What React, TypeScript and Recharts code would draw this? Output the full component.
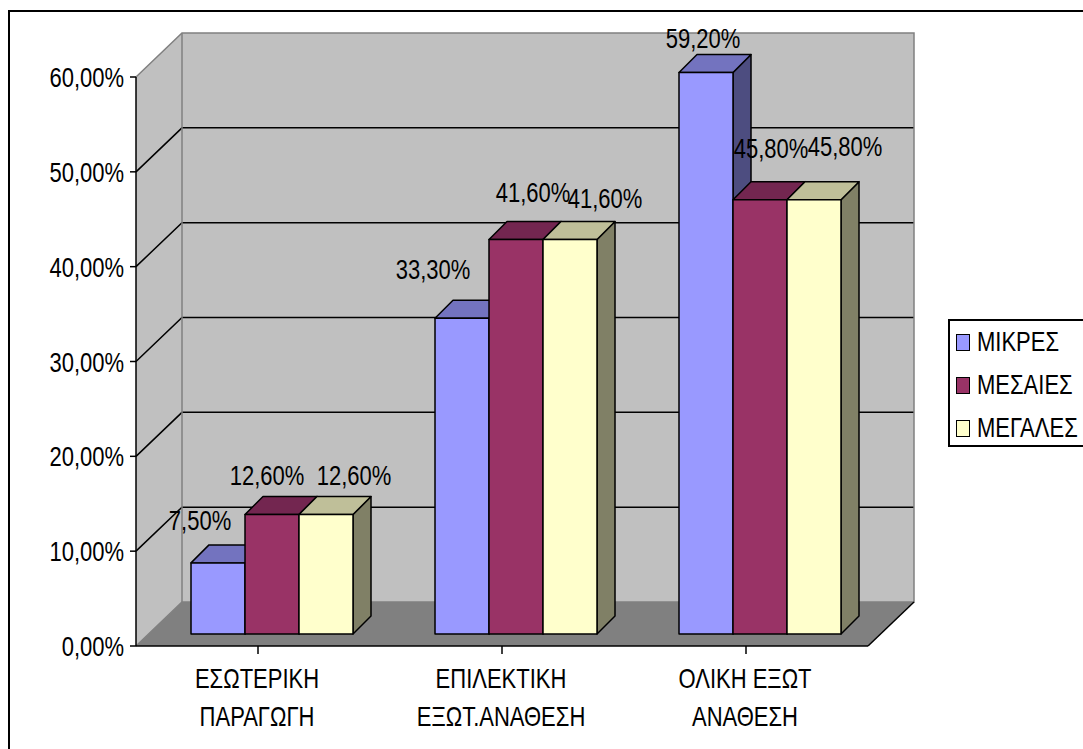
import React from 'react';
import { BarChart, Bar, XAxis, YAxis, Legend, LabelList, Customized } from 'recharts';

const categories = ['ΕΣΩΤΕΡΙΚΗ\nΠΑΡΑΓΩΓΗ', 'ΕΠΙΛΕΚΤΙΚΗ\nΕΞΩΤ.ΑΝΑΘΕΣΗ', 'ΟΛΙΚΗ ΕΞΩΤ\nΑΝΑΘΕΣΗ'];
const mikres = [7.5, 33.3, 59.2];
const mesaies = [12.6, 41.6, 45.8];
const megales = [12.6, 41.6, 45.8];
const yTicks = [0, 10, 20, 30, 40, 50, 60];

// Hand placement of the value labels, relative to the top centre of each bar.
const nudgeMikres = [[-18, -42], [-29, -48], [-3, -34]];
const nudgeMesaies = [[-5, -39], [17, -46], [11, -51]];
const nudgeMegales = [[28, -39], [35, -40], [31, -53]];

const rows = categories.map((name, i) => ({
  name,
  mikres: mikres[i],
  mesaies: mesaies[i],
  megales: megales[i],
}));

const W = 1083;
const H = 749;
const plot = { left: 136, right: 868, top: 77, bottom: 646 };
const margin = { left: 0, right: W - plot.right, top: plot.top, bottom: 0 };
const wallDx = 46;
const wallDy = 44;
const barDx = 14.5;
const barDy = 12;
const depth = 18;

const FONT = '"Liberation Sans", Arial, sans-serif';
const FONT_SIZE = 27.5;
const SQUEEZE = 0.8;

const pct = (v: number) => `${v.toFixed(2).replace('.', ',')}%`;

function Squeezed({ x, y, anchor, children }: any) {
  return (
    <text
      transform={`translate(${x},${y}) scale(${SQUEEZE},1)`}
      textAnchor={anchor}
      fontFamily={FONT}
      fontSize={FONT_SIZE}
      fill="#000"
    >
      {children}
    </text>
  );
}

// Side wall, back wall, floor and gridlines of the 3D box behind the bars.
function Backdrop() {
  const { left, right, top, bottom } = plot;
  const span = bottom - top;
  const yOf = (t: number) => bottom - (span * t) / 60;
  return (
    <g>
      <polygon
        points={`${left},${top} ${left + wallDx},${top - wallDy} ${left + wallDx},${bottom - wallDy} ${left},${bottom}`}
        fill="#c0c0c0"
      />
      <rect x={left + wallDx} y={top - wallDy} width={right - left} height={span} fill="#c0c0c0" />
      <polygon
        points={`${left},${bottom} ${left + wallDx},${bottom - wallDy} ${right + wallDx},${bottom - wallDy} ${right},${bottom}`}
        fill="#808080"
      />
      {yTicks.slice(1, -1).map((t) => (
        <path
          key={t}
          d={`M${left},${yOf(t)} L${left + wallDx},${yOf(t) - wallDy} H${right + wallDx}`}
          fill="none"
          stroke="#000"
          strokeWidth={1.5}
        />
      ))}
      <path
        d={`M${left},${top} L${left + wallDx},${top - wallDy} H${right + wallDx} V${bottom - wallDy} H${left + wallDx} L${left},${bottom}`}
        fill="none"
        stroke="#808080"
        strokeWidth={1.5}
      />
      <line
        x1={left + wallDx}
        y1={top - wallDy}
        x2={left + wallDx}
        y2={bottom - wallDy}
        stroke="#808080"
        strokeWidth={1.5}
      />
      <line x1={right} y1={bottom} x2={right + wallDx} y2={bottom - wallDy} stroke="#000" strokeWidth={1.5} />
    </g>
  );
}

// A bar drawn as a box: front face, lit top face and shaded side face.
const box = (topFill: string, sideFill: string) => (props: any) => {
  const { x, y, width, height, fill } = props;
  const fx = x + barDx;
  const fy = y - barDy;
  const common = { stroke: '#000', strokeWidth: 1.5, strokeLinejoin: 'round' as const };
  return (
    <g>
      <polygon
        points={`${fx + width},${fy} ${fx + width + depth},${fy - depth} ${fx + width + depth},${fy + height - depth} ${fx + width},${fy + height}`}
        fill={sideFill}
        {...common}
      />
      <polygon
        points={`${fx},${fy} ${fx + depth},${fy - depth} ${fx + width + depth},${fy - depth} ${fx + width},${fy}`}
        fill={topFill}
        {...common}
      />
      <rect x={fx} y={fy} width={width} height={height} fill={fill} {...common} />
    </g>
  );
};

const valueLabel = (nudges: number[][]) => (props: any) => {
  const { x, y, width, value, index } = props;
  const [nx, ny] = nudges[index];
  return (
    <Squeezed x={x + barDx + width / 2 + nx} y={y - barDy + ny + 9} anchor="middle">
      {pct(Number(value))}
    </Squeezed>
  );
};

function CategoryTick({ x, y, payload }: any) {
  const lines = String(payload.value).split('\n');
  return (
    <g>
      {lines.map((line, i) => (
        <Squeezed key={line} x={x - 1} y={y + 32 + i * 38} anchor="middle">
          {line}
        </Squeezed>
      ))}
    </g>
  );
}

function ValueTick({ x, y, payload }: any) {
  return (
    <Squeezed x={x - 6} y={y + 10} anchor="end">
      {pct(payload.value)}
    </Squeezed>
  );
}

function LegendBox({ payload }: any) {
  return (
    <div
      style={{
        position: 'relative',
        width: 140,
        height: 128,
        boxSizing: 'border-box',
        border: '2px solid #000',
        background: '#fff',
        overflow: 'hidden',
      }}
    >
      {(payload || []).map((entry: any, i: number) => (
        <React.Fragment key={entry.value}>
          <div
            style={{
              position: 'absolute',
              left: 6,
              top: 13 + i * 43,
              width: 14,
              height: 17,
              boxSizing: 'border-box',
              border: '1.5px solid #000',
              background: entry.color,
            }}
          />
          <div
            style={{
              position: 'absolute',
              left: 27,
              top: 6 + i * 43,
              fontFamily: FONT,
              fontSize: FONT_SIZE,
              lineHeight: '30px',
              color: '#000',
              whiteSpace: 'nowrap',
              transform: `scaleX(${SQUEEZE})`,
              transformOrigin: 'left center',
            }}
          >
            {entry.value}
          </div>
        </React.Fragment>
      ))}
    </div>
  );
}

export default function App() {
  return (
    <div style={{ position: 'absolute', left: 0, top: 0, width: W, height: H, overflow: 'hidden', background: '#fff' }}>
      <div
        style={{
          position: 'absolute',
          left: 8,
          top: 10,
          width: W,
          height: H,
          borderLeft: '2px solid #000',
          borderTop: '2px solid #000',
        }}
      />
      <BarChart
        width={W}
        height={H}
        data={rows}
        margin={margin}
        barCategoryGap="16.6%"
        barGap={0}
        style={{ position: 'absolute', left: 0, top: 0 }}
      >
        <Customized component={Backdrop} />
        <XAxis
          dataKey="name"
          interval={0}
          height={H - plot.bottom}
          tickSize={8}
          tick={<CategoryTick />}
          axisLine={{ stroke: '#000', strokeWidth: 1.5 }}
          tickLine={{ stroke: '#000', strokeWidth: 1.5 }}
        />
        <YAxis
          domain={[0, 60]}
          ticks={yTicks}
          width={plot.left}
          tickSize={6}
          tickMargin={0}
          tick={<ValueTick />}
          axisLine={{ stroke: '#000', strokeWidth: 1.5 }}
          tickLine={{ stroke: '#000', strokeWidth: 1.5 }}
        />
        <Legend
          layout="vertical"
          align="center"
          verticalAlign="middle"
          itemSorter={null}
          wrapperStyle={{ position: 'absolute', left: 948, top: 319, width: 140, height: 128 }}
          content={<LegendBox />}
        />
        <Bar dataKey="mikres" name="ΜΙΚΡΕΣ" fill="#9999ff" isAnimationActive={false} shape={box('#7373bf', '#4d4d80')}>
          <LabelList dataKey="mikres" content={valueLabel(nudgeMikres)} />
        </Bar>
        <Bar dataKey="mesaies" name="ΜΕΣΑΙΕΣ" fill="#993366" isAnimationActive={false} shape={box('#732650', '#4d1a33')}>
          <LabelList dataKey="mesaies" content={valueLabel(nudgeMesaies)} />
        </Bar>
        <Bar dataKey="megales" name="ΜΕΓΑΛΕΣ" fill="#ffffcc" isAnimationActive={false} shape={box('#bfbf99', '#808066')}>
          <LabelList dataKey="megales" content={valueLabel(nudgeMegales)} />
        </Bar>
      </BarChart>
    </div>
  );
}
